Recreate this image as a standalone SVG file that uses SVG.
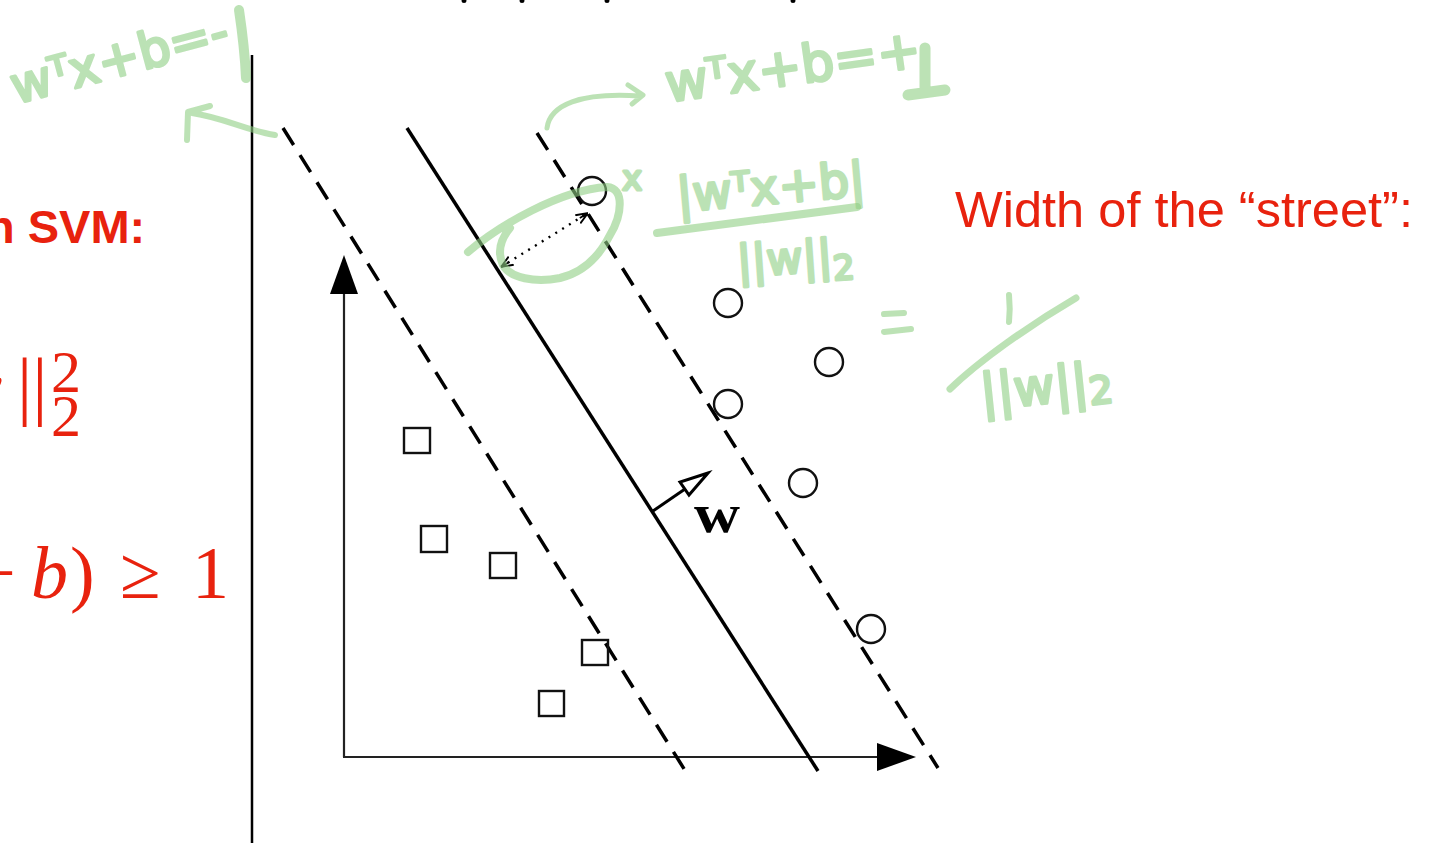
<svg xmlns="http://www.w3.org/2000/svg" width="1431" height="843" viewBox="0 0 1431 843">
<style>
.red{fill:#e8220e;font-family:"Liberation Sans",Arial,sans-serif}
.math{fill:#e8220e;font-family:"Liberation Serif","DejaVu Serif",serif}
.ln{stroke:#000;stroke-width:3.5;fill:none;stroke-linecap:butt}
.dash{stroke-dasharray:20 12}
.ax{stroke:#222;stroke-width:2.2;fill:none}
.pt{stroke:#111;stroke-width:2.4;fill:none}
.g{stroke:#8fcf84;fill:none;stroke-linecap:round;stroke-linejoin:round;opacity:0.6}
.gt{fill:#8fcf84;stroke:#8fcf84;stroke-width:3;stroke-linejoin:round;opacity:0.6;font-family:"DejaVu Sans","Noto Sans",sans-serif}
</style>
<defs>
<marker id="barb" viewBox="0 0 10 10" refX="10" refY="5" markerWidth="12" markerHeight="12" orient="auto-start-reverse" markerUnits="userSpaceOnUse"><path d="M0,1 L10,5 L0,9 M2,5 L10,5" stroke="#000" stroke-width="1.5" fill="none"/></marker>
</defs>
<rect width="1431" height="843" fill="#fff"/>

<g id="left-text">
<text class="red" x="-14" y="243" font-size="47" font-weight="bold">n SVM:</text>
<text class="math" x="-46" y="411" font-size="72" font-style="italic">w</text>
<text class="math" x="17" y="411" font-size="76">||</text>
<text class="math" x="51" y="392" font-size="60">2</text>
<text class="math" x="51" y="436" font-size="60">2</text>
<text class="math" y="598" font-size="74"><tspan x="-26">+</tspan><tspan x="31" font-style="italic">b</tspan><tspan x="70">)</tspan><tspan x="120">≥</tspan><tspan x="192">1</tspan></text>
</g>

<g id="separator"><line x1="252" y1="55" x2="252" y2="843" stroke="#000" stroke-width="2.5"/></g>

<g id="top-marks" fill="#000">
<ellipse cx="464" cy="1" rx="2.5" ry="2"/><ellipse cx="522" cy="1" rx="2.5" ry="2"/><ellipse cx="607" cy="1" rx="2.5" ry="2"/><ellipse cx="793" cy="1" rx="2.5" ry="2"/>
</g>

<g id="axes">
<line class="ax" x1="344" y1="757" x2="344" y2="292"/>
<path d="M344,255 L358,294 L330,294 Z" fill="#000"/>
<line class="ax" x1="343" y1="757" x2="878" y2="757"/>
<path d="M916,757 L877,743 L877,771 Z" fill="#000"/>
</g>

<g id="connectors">
<line id="margin-neg" class="ln dash" x1="283" y1="128" x2="686" y2="772"/>
<line id="hyperplane" class="ln" x1="407" y1="128" x2="818" y2="771"/>
<line id="margin-pos" class="ln dash" x1="537" y1="133" x2="938" y2="768"/>
<g id="w-vector">
<line x1="653" y1="511" x2="685" y2="489" stroke="#000" stroke-width="3"/>
<path d="M708,473 L680,482 L689,495 Z" fill="#fff" stroke="#000" stroke-width="3" stroke-linejoin="miter"/>
</g>
<line id="distance" x1="501" y1="267" x2="588" y2="213" stroke="#000" stroke-width="2.4" stroke-dasharray="2 6" marker-start="url(#barb)" marker-end="url(#barb)"/>
</g>
<text x="694" y="532" font-family="'Liberation Serif',serif" font-weight="bold" font-size="54" textLength="46" lengthAdjust="spacingAndGlyphs">w</text>

<g id="squares" class="pt">
<rect x="404" y="428" width="26" height="25"/>
<rect x="421" y="526" width="26" height="26"/>
<rect x="490" y="553" width="26" height="25"/>
<rect x="582" y="640" width="26" height="25"/>
<rect x="539" y="691" width="25" height="25"/>
</g>
<g id="circles" class="pt">
<circle cx="592" cy="191" r="14"/>
<circle cx="728" cy="303" r="14"/>
<circle cx="829" cy="362" r="14"/>
<circle cx="728" cy="404" r="14"/>
<circle cx="803" cy="483" r="14"/>
<circle cx="871" cy="629" r="14"/>
</g>

<g id="annotations">
<text class="gt" x="16" y="104" font-size="50" transform="rotate(-15 16 104)">wᵀx+b=-</text>
<path class="g" d="M239,10 C242,30 245,55 246,78" stroke-width="10"/>
<path class="g" d="M275,135 C245,130 225,118 192,113 M187,140 L188,112 L210,106" stroke-width="6"/>
<path class="g" d="M468,252 C500,225 560,190 607,187 C625,188 622,215 610,235 C600,255 585,272 560,278 C535,283 510,278 503,265 C497,252 500,240 510,228" stroke-width="8"/>
<text class="gt" x="622" y="190" font-size="34">x</text>
<path class="g" d="M547,128 C550,105 580,92 640,96 M628,85 L643,95 L632,104" stroke-width="5"/>
<text class="gt" x="668" y="102" font-size="52" transform="rotate(-8 668 102)">wᵀx+b=+</text>
<path class="g" d="M925,48 L925,92 M908,95 L945,90" stroke-width="11"/>
<text class="gt" x="678" y="212" font-size="48" transform="rotate(-5 678 212)">|wᵀx+b|</text>
<path class="g" d="M657,233 L857,207" stroke-width="8"/>
<text class="gt" x="738" y="277" font-size="44" transform="rotate(-4 738 277)">||w||<tspan font-size="34" dy="10">2</tspan></text>
<path class="g" d="M884,314 L904,313 M884,332 L911,329" stroke-width="6"/>
<path class="g" d="M1009,295 C1010,305 1010,313 1009,322" stroke-width="6"/>
<path class="g" d="M950,389 C980,360 1030,325 1076,298" stroke-width="7"/>
<text class="gt" x="982" y="410" font-size="50" transform="rotate(-6 982 410)">||w||<tspan font-size="38" dy="6">2</tspan></text>
</g>

<g id="street-label">
<text class="red" x="955" y="227" font-size="50" textLength="458" lengthAdjust="spacingAndGlyphs">Width of the “street”:</text>
</g>
</svg>
